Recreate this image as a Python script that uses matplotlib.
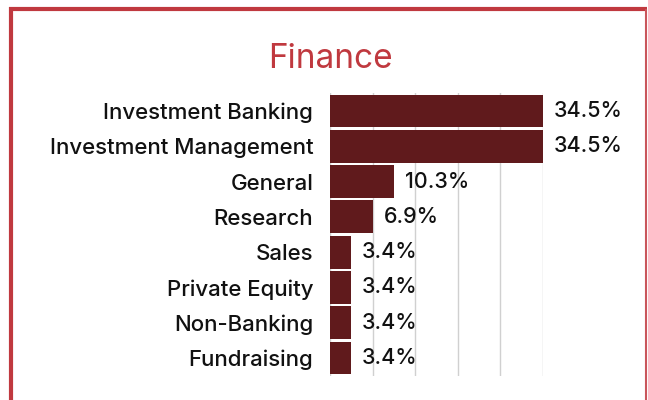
import matplotlib
matplotlib.use("Agg")
import numpy as np
import matplotlib.pyplot as plt
from matplotlib.lines import Line2D

# data
categories = ["Investment Banking", "Investment Management", "General", "Research",
              "Sales", "Private Equity", "Non-Banking", "Fundraising"]
shares = [34.5, 34.5, 10.3, 6.9, 3.4, 3.4, 3.4, 3.4]
title = "Finance"

bar_color = "#601a1c"
accent = "#c0393f"
plt.rcParams['font.family'] = ['Inter', 'DejaVu Sans']

fig = plt.figure(figsize=(6.48, 4.0), dpi=100)
ax = fig.add_axes([330 / 648, 1 - 375.7 / 400, 213 / 648, (375.7 - 93.3) / 400])

y = np.arange(len(categories))
ax.barh(y, shares, height=0.93, color=bar_color, zorder=2)
ax.set_ylim(len(categories) - 0.5, -0.5)
ax.set_xlim(0, max(shares))
ax.set_xticks(np.linspace(0, max(shares), 6))
ax.set_xticklabels([])
ax.grid(axis="x", color="#d0d0d0", linewidth=1, zorder=0)
ax.tick_params(length=0)
ax.set_yticks(y)
ax.set_yticklabels(categories, fontsize=16, fontweight="medium", color="#111111")
ax.tick_params(axis="y", pad=12)
for s in ax.spines.values():
    s.set_visible(False)

# value labels
for yi, v in zip(y, shares):
    ax.annotate(f"{v}%", (v, yi), xytext=(8, 0), textcoords="offset points",
                va="center", ha="left", fontsize=15.5, fontweight="medium",
                color="#111111")

fig.text(330 / 648, 1 - 59 / 400, title, ha="center", va="center",
         fontsize=24, color=accent)

# border
fig.add_artist(Line2D([11 / 648, 11 / 648], [0, 1 - 7 / 400], color=accent, linewidth=3,
                      transform=fig.transFigure, solid_capstyle="butt"))
fig.add_artist(Line2D([9 / 648, 647 / 648], [1 - 9 / 400, 1 - 9 / 400], color=accent,
                      linewidth=3, transform=fig.transFigure, solid_capstyle="butt"))
fig.add_artist(Line2D([645.5 / 648, 645.5 / 648], [0, 1 - 9 / 400], color="#c9565b",
                      linewidth=1.5, transform=fig.transFigure, solid_capstyle="butt"))

fig.savefig("out.png", dpi=100)
